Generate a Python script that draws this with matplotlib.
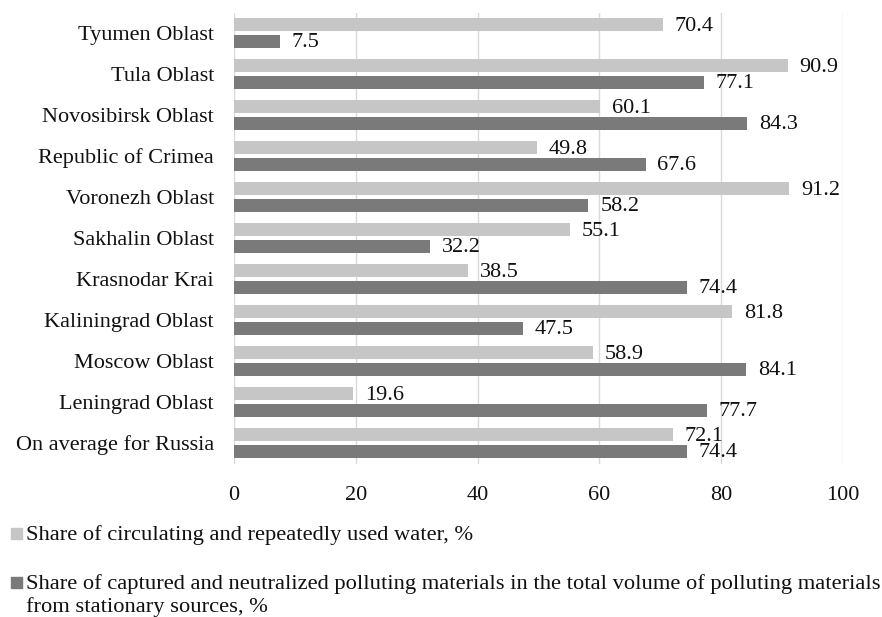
import matplotlib
matplotlib.use("Agg")
import matplotlib.pyplot as plt
from matplotlib.patches import Rectangle
import numpy as np

categories = ["On average for Russia", "Leningrad Oblast", "Moscow Oblast", "Kaliningrad Oblast",
              "Krasnodar Krai", "Sakhalin Oblast", "Voronezh Oblast", "Republic of Crimea",
              "Novosibirsk Oblast", "Tula Oblast", "Tyumen Oblast"]
water = [72.1, 19.6, 58.9, 81.8, 38.5, 55.1, 91.2, 49.8, 60.1, 90.9, 70.4]
captured = [74.4, 77.7, 84.1, 47.5, 74.4, 32.2, 58.2, 67.6, 84.3, 77.1, 7.5]
series_names = ["Share of circulating and repeatedly used water, %",
                "Share of captured and neutralized polluting materials in the total volume of polluting materials\nfrom stationary sources, %"]
xticks = [0, 20, 40, 60, 80, 100]

plt.rcParams['font.family'] = ['Liberation Serif', 'DejaVu Serif']
FS = 16
light = "#c6c6c6"
dark = "#7a7a7a"
W, H = 882, 617

fig = plt.figure(figsize=(W / 100, H / 100), dpi=100)
ax = fig.add_axes([234 / W, 1 - 463.5 / H, (843 - 234) / W, (463.5 - 12.5) / H])

y = np.arange(len(categories))
off = 0.203
h = 0.31
b1 = ax.barh(y + off, water, height=h, color=light, zorder=2)
b2 = ax.barh(y - off, captured, height=h, color=dark, zorder=2)
for bars, vals in ((b1, water), (b2, captured)):
    for rect, v in zip(bars, vals):
        ax.annotate(f"{v}", (rect.get_width(), rect.get_y() + rect.get_height() / 2),
                    xytext=(8.5, -1.2), textcoords="offset points", va="center", ha="left",
                    fontsize=FS, color="#111111")

ax.set_xlim(0, 100)
ax.set_ylim(-0.5, len(categories) - 0.5)
ax.set_xticks(xticks)
ax.set_xticklabels([str(t) for t in xticks], fontsize=FS)
ax.set_yticks(y)
ax.set_yticklabels(categories, fontsize=FS)
ax.tick_params(length=0, colors="#111111")
ax.tick_params(axis='x', pad=16)
ax.tick_params(axis='y', pad=14.4)
ax.grid(axis='x', color="#d9d9d9", linewidth=1, zorder=0)
for s in ax.spines.values():
    s.set_visible(False)

# legend (manual, figure coords)
LFS = 16.2
for (ypx, name, col) in ((533, series_names[0], light), (582, series_names[1], dark)):
    fig.patches.append(Rectangle((11 / W, 1 - (ypx + 5.5) / H), 11 / W, 11 / H,
                                 transform=fig.transFigure, color=col, figure=fig))
    for i, line in enumerate(name.split("\n")):
        fig.text(26 / W, 1 - (ypx + i * 23) / H, line, fontsize=LFS, va="center_baseline",
                 ha="left", color="#111111")

fig.savefig("out.png", dpi=100)
